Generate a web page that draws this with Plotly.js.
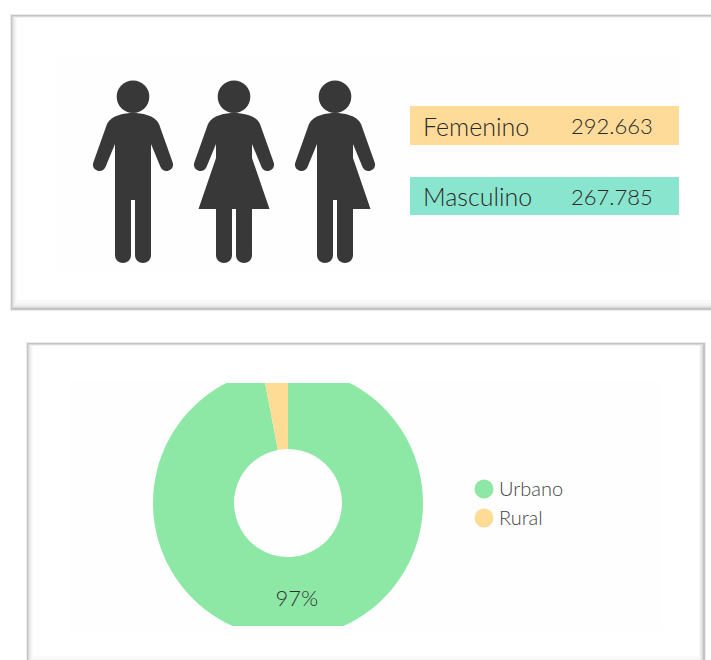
<!DOCTYPE html>
<html><head><meta charset="utf-8">
<script src="https://cdn.plot.ly/plotly-3.0.1.min.js"></script>
<style>html,body{margin:0;padding:0;background:#fff}#c{width:711px;height:660px}</style>
</head><body><div id="c"></div>
<script>
var genderLabels = ['Femenino', 'Masculino'];
var genderValues = ['292.663', '267.785'];
var genderColors = ['#FFDB99', '#8AE5CF'];
var areaLabels = ['Urbano', 'Rural'];
var areaValues = [97, 3];
var areaColors = ['#8DE8A6', '#FFDC96'];
var FONT = 'Lato, "Noto Sans", sans-serif';
var W = 711, H = 660;
function px(x){return x / W;}
function py(y){return 1 - y / H;}
function rect(x0,y0,x1,y1,fill,layer){
  return {type:'rect',xref:'paper',yref:'paper',x0:px(x0),x1:px(x1),y0:py(y0),y1:py(y1),
    fillcolor:fill,line:{width:0},layer:layer||'below'};
}
function circle(cx,cy,r,fill,layer){
  return {type:'circle',xref:'paper',yref:'paper',x0:px(cx-r),x1:px(cx+r),y0:py(cy-r),y1:py(cy+r),
    fillcolor:fill,line:{width:0},layer:layer||'above'};
}
function pt(x,y){return px(x)+','+py(y);}
// semicircular cap between two points, bulging to the outside of a clockwise outline
function cap(x0,y0,x1,y1){
  var dx=x1-x0, dy=y1-y0, nx=dy, ny=-dx, h=2/3;
  return 'C'+pt(x0+nx*h,y0+ny*h)+' '+pt(x1+nx*h,y1+ny*h)+' '+pt(x1,y1);
}
var INK = '#383838';
function person(cx,dressL,dressR){
  var s = [];
  function X(d){return cx+d;}
  function L(d,y){s.push('L'+pt(X(d),y));}
  var gapTop = (dressL&&dressR)?209:200;
  s.push('M'+pt(X(0),113));
  s.push('C'+pt(X(8),113)+' '+pt(X(22),115)+' '+pt(X(26),124));
  L(39.5,162);
  s.push(cap(X(39.5),162,X(27.5),167));
  L(18,144);
  if(dressR){ L(18,158); L(35.5,209); L(18,209); }
  L(18,255);
  s.push(cap(X(18),255,X(2),255));
  L(2,gapTop); L(-2,gapTop); L(-2,255);
  s.push(cap(X(-2),255,X(-18),255));
  if(dressL){ L(-18,209); L(-35.5,209); L(-18,158); }
  L(-18,144);
  L(-27.5,167);
  s.push(cap(X(-27.5),167,X(-39.5),162));
  L(-26,124);
  s.push('C'+pt(X(-22),115)+' '+pt(X(-8),113)+' '+pt(X(0),113));
  s.push('Z');
  return [circle(cx,96.7,16.3,INK),
    {type:'path',xref:'paper',yref:'paper',path:s.join(' '),fillcolor:INK,line:{width:0},layer:'above'}];
}
function panel(x0,y0,x1,y1){
  return [
    rect(x0-1,y0-1,x1+5,y1+3,'#ececec'),
    rect(x0,y0,x1+4,y1+2,'#c4c4c4'),
    rect(x0+1,y0+1,x1+2,y1,'#d8d8d8'),
    rect(x0+2,y0+2,x1+1,y1-1,'#e6e6e6'),
    rect(x0+3,y0+2,x1,y1-2,'#eeeeee'),
    rect(x0+4,y0+2,x1-1,y1-3,'#f4f4f4'),
    rect(x0+5,y0+3,x1-1,y1-5,'#fafafa'),
    rect(x0+6,y0+3,x1-2,y1-8,'#ffffff')
  ];
}
var shapes = [].concat(
  panel(11,15,740,308),
  panel(27,343,701,664),
  [rect(55,58,680,270,'#fefefe'), rect(68,380,662,630,'#fefefe')]
);
var barTop = [106,177], barBot = [145,215];
genderLabels.forEach(function(l,i){ shapes.push(rect(410,barTop[i],679,barBot[i],genderColors[i])); });
shapes = shapes.concat(person(133,false,false), person(234,true,true), person(335,false,true));
// trim donut top & bottom as in the source picture
shapes.push(rect(145,364,430,380,'#ffffff','above'));
shapes.push(rect(145,380,430,383,'#fefefe','above'));
shapes.push(rect(145,626,430,630,'#fefefe','above'));
shapes.push(rect(145,630,430,642,'#ffffff','above'));
var legY = [489,518];
areaLabels.forEach(function(l,i){ shapes.push(circle(484,legY[i],9.5,areaColors[i])); });

var annotations = [];
function note(x,y,anchor,text,size,color){
  annotations.push({xref:'paper',yref:'paper',x:px(x),y:py(y),xanchor:anchor,yanchor:'middle',showarrow:false,
    text:text,font:{family:FONT,size:size,weight:300,color:color}});
}
genderLabels.forEach(function(l,i){
  var yc = (barTop[i]+barBot[i])/2;
  note(421,yc,'left',l,25,'#2a2a2a');
  note(612,yc,'center',genderValues[i],22,'#2a2a2a');
});
areaLabels.forEach(function(l,i){ note(497,legY[i]-1,'left',l,20,'#444444'); });

Plotly.newPlot('c',[{
  type:'pie',labels:areaLabels,values:areaValues,hole:0.4,sort:false,direction:'clockwise',rotation:0,
  marker:{colors:areaColors,line:{width:0}},
  textinfo:'percent',textposition:['inside','none'],
  insidetextorientation:'horizontal',
  insidetextfont:{family:FONT,size:22,weight:300,color:'#333333'},
  domain:{x:[px(153),px(423)],y:[py(638),py(368)]},
  showlegend:false
}],{
  width:W,height:H,margin:{l:0,r:0,t:0,b:0},paper_bgcolor:'#fff',showlegend:false,
  shapes:shapes,annotations:annotations
},{displayModeBar:false,staticPlot:true});
</script></body></html>
